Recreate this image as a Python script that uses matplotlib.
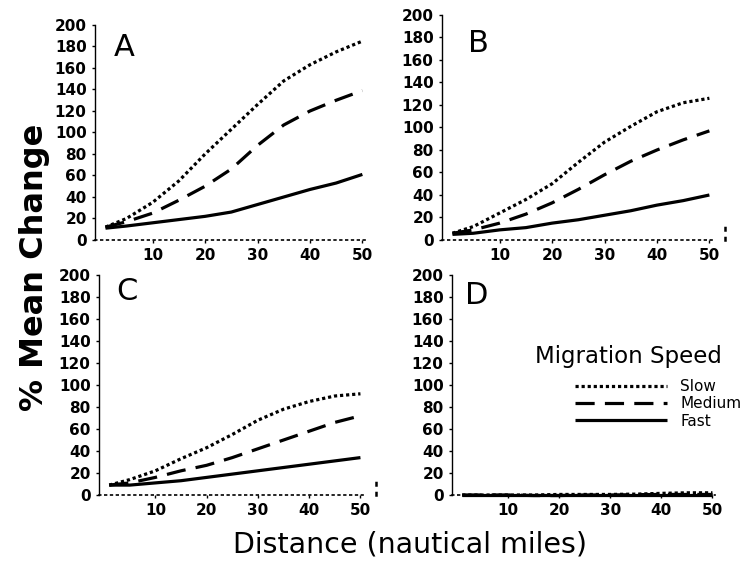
import matplotlib
matplotlib.use("Agg")
import matplotlib.pyplot as plt

# ---- data ----
distance = [1, 5, 10, 15, 20, 25, 30, 35, 40, 45, 50]

a_slow   = [12, 20, 35, 55, 80, 103, 126, 148, 163, 175, 185]
a_medium = [12, 17, 25, 37, 50, 66, 88, 107, 120, 130, 139]
a_fast   = [11, 13, 16, 19, 22, 26, 33, 40, 47, 53, 61]

b_slow   = [6, 12, 24, 36, 50, 69, 87, 101, 114, 122, 126]
b_medium = [6, 9, 15, 23, 33, 45, 58, 70, 80, 89, 97]
b_fast   = [5, 6, 9, 11, 15, 18, 22, 26, 31, 35, 40]

c_slow   = [9, 14, 22, 33, 43, 55, 68, 78, 85, 90, 92]
c_medium = [9, 11, 16, 22, 27, 34, 42, 50, 58, 66, 72]
c_fast   = [9, 9, 11, 13, 16, 19, 22, 25, 28, 31, 34]

d_slow   = [0, 0, 0, 0, 0.5, 0.5, 0.5, 0.8, 1.5, 2, 2]
d_medium = [0, 0, 0, -0.5, -0.5, 0, 0, 0.3, 0.5, 0.5, 0.5]
d_fast   = [0, 0, 0, 0, 0, 0, 0, 0, 0, 0, 0]

panel_labels = ["A", "B", "C", "D"]
series_names = ["Slow", "Medium", "Fast"]
legend_title = "Migration Speed"
y_ticks = list(range(0, 201, 20))
x_ticks = [10, 20, 30, 40, 50]

panels = [
    (a_slow, a_medium, a_fast),
    (b_slow, b_medium, b_fast),
    (c_slow, c_medium, c_fast),
    (d_slow, d_medium, d_fast),
]

# ---- layout ----
W, H = 749, 561
fig = plt.figure(figsize=(W / 100, H / 100), dpi=100)
plt.rcParams['font.family'] = ['DejaVu Sans']

# (left, top, right, bottom) in pixels
boxes = [
    (95, 25, 365, 240),
    (442, 15, 712, 240),
    (99, 275, 363, 495),
    (452, 275, 715, 495),
]
letter_pos = [(124, 47), (478, 43), (127, 292), (477, 296)]

styles = [
    dict(linestyle=(0, (1.0, 0.9)), linewidth=2.3),
    dict(linestyle=(0, (6.0, 3.2)), linewidth=2.3),
    dict(linestyle='-', linewidth=2.3),
]

axes = []
for i, ((l, t, r, b), data) in enumerate(zip(boxes, panels)):
    ax = fig.add_axes([l / W, 1 - b / H, (r - l) / W, (b - t) / H])
    lines = []
    for vals, st in zip(data, styles):
        ln, = ax.plot(distance, vals, color='black', clip_on=False,
                      solid_capstyle='butt', dash_capstyle='butt', **st)
        lines.append(ln)
    ax.set_xlim(-1, 50.5)
    ax.set_ylim(0, 200)
    ax.spines['top'].set_visible(False)
    ax.spines['right'].set_visible(False)
    ax.spines['left'].set_linewidth(1.0)
    ax.spines['bottom'].set_linestyle((0, (1, 2.5)))
    ax.spines['bottom'].set_linewidth(1.2)
    if i in (1, 2):
        # small dotted marks at right end of the axis
        ax.spines['right'].set_visible(True)
        ax.spines['right'].set_position(('data', 53))
        ax.spines['right'].set_bounds(0, 16)
        ax.spines['right'].set_linestyle((0, (1, 3)))
        ax.spines['right'].set_linewidth(1.8)
    ax.set_yticks(y_ticks)
    ax.set_xticks(x_ticks)
    ax.set_yticklabels([str(v) for v in y_ticks], fontweight='bold')
    ax.set_xticklabels([str(v) for v in x_ticks], fontweight='bold')
    ax.tick_params(axis='both', length=2, width=1, pad=4, labelsize=11,
                   direction='out')
    ax.tick_params(axis='y', right=False)
    fig.text(letter_pos[i][0] / W, 1 - letter_pos[i][1] / H, panel_labels[i],
             fontsize=22, ha='center', va='center')
    axes.append((ax, lines))

# legend in panel D
axd, dlines = axes[3]
leg = axd.legend(dlines, series_names, frameon=False,
                 loc='upper left', bbox_to_anchor=(575 / W, 1 - 379 / H),
                 bbox_transform=fig.transFigure, fontsize=11,
                 handlelength=6.0, handletextpad=0.9, labelspacing=0.15,
                 borderpad=0, borderaxespad=0)
for h in leg.get_lines():
    h.set_linewidth(2.3)
fig.text(628 / W, 1 - 357 / H, legend_title, fontsize=16.5,
         ha='center', va='center')

fig.text(35 / W, 1 - 267 / H, '% Mean Change', rotation=90, fontsize=23,
         fontweight='bold', ha='center', va='center')
fig.text(410 / W, 1 - 545 / H, 'Distance (nautical miles)', fontsize=20.5,
         ha='center', va='center')

fig.savefig('out.png', dpi=100)
